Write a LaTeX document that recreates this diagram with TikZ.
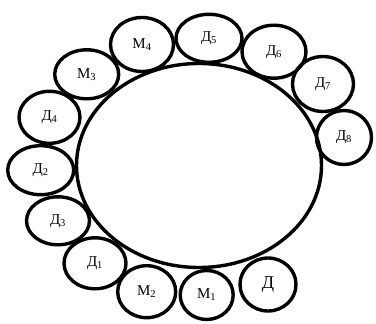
\documentclass[tikz,border=0pt]{standalone}
\usepackage{fontspec}
\setmainfont{Liberation Serif}
\usetikzlibrary{shapes.geometric}

\begin{document}
\begin{tikzpicture}[x=1pt, y=-1pt,
  hub/.style={draw, ellipse, line width=3.4pt, inner sep=0pt,
    minimum width=245pt, minimum height=204pt},
  part/.style={draw, ellipse, line width=3.4pt, inner sep=0pt,
    font=\fontsize{15}{15}\selectfont},
  big/.style={font=\fontsize{18}{18}\selectfont}
]
  \useasboundingbox (0,0) rectangle (376,324);
  \node[hub] (pool) at (199,165.5) {};

  \node[part, minimum width=63pt, minimum height=54pt] (m4) at (142,44.5) {М\textsubscript{4}};
  \node[part, minimum width=66pt, minimum height=48pt] (d5) at (209,38.3) {Д\textsubscript{5}};
  \node[part, minimum width=64pt, minimum height=53pt] (d6) at (274,51.7) {Д\textsubscript{6}};
  \node[part, minimum width=61pt, minimum height=55pt] (d7) at (323,84) {Д\textsubscript{7}};
  \node[part, minimum width=55pt, minimum height=54pt] (d8) at (344,137.5) {Д\textsubscript{8}};
  \node[part, minimum width=64pt, minimum height=49pt] (m3) at (86.7,74.3) {М\textsubscript{3}};
  \node[part, minimum width=61pt, minimum height=52pt] (d4) at (49.5,117.3) {Д\textsubscript{4}};
  \node[part, minimum width=66pt, minimum height=49pt] (d2) at (40.7,170.2) {Д\textsubscript{2}};
  \node[part, minimum width=63pt, minimum height=48pt] (d3) at (58,220.8) {Д\textsubscript{3}};
  \node[part, minimum width=62pt, minimum height=51pt] (d1) at (95,263.3) {Д\textsubscript{1}};
  \node[part, minimum width=58pt, minimum height=52pt] (m2) at (146.7,291.7) {М\textsubscript{2}};
  \node[part, minimum width=53pt, minimum height=49pt] (m1) at (206.7,295) {М\textsubscript{1}};
  \node[part, big, minimum width=56pt, minimum height=53pt] (d0) at (268,284.5) {Д};
\end{tikzpicture}
\end{document}
